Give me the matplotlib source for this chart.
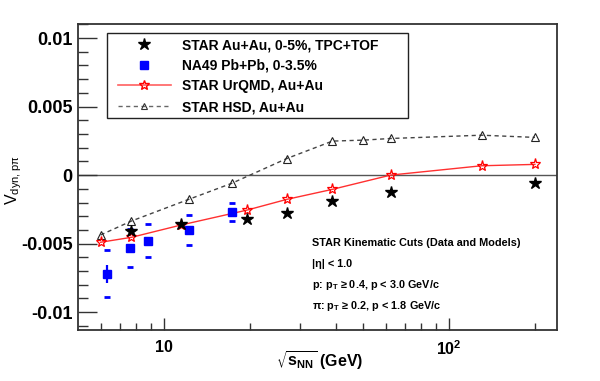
import numpy as np
import matplotlib
matplotlib.use('Agg')
import matplotlib.pyplot as plt
from matplotlib.patches import Rectangle
from matplotlib.ticker import FixedLocator, NullFormatter

plt.rcParams['font.family'] = ['Liberation Sans', 'DejaVu Sans']
plt.rcParams['mathtext.default'] = 'regular'

# STAR Au+Au 0-5% data
star_e = [7.7, 11.5, 19.6, 27, 39, 62.4, 200]
star_v = [-0.0041, -0.0036, -0.0032, -0.0028, -0.0019, -0.00125, -0.0006]
star_err = [0.0001, 0.0001, 0.0001, 0.0001, 0.0002, 0.0002, 0.0001]

# NA49 Pb+Pb 0-3.5%
na49_e = [6.3, 7.6, 8.8, 12.3, 17.3]
na49_v = [-0.0072, -0.0053, -0.0048, -0.0040, -0.0027]
na49_stat = [0.00066, 0.0003, 0.0002, 0.0002, 0.0002]
na49_sys = [0.0017, 0.0014, 0.0012, 0.0011, 0.00067]

# UrQMD
urqmd_e = [6.0, 7.7, 11.5, 19.6, 27, 39, 62.4, 130, 200]
urqmd_v = [-0.0049, -0.00454, -0.00364, -0.00255, -0.00177, -0.00104, 0.0, 0.00068, 0.00078]

# HSD
hsd_e = [6.0, 7.7, 12.3, 17.3, 27, 39, 50, 62.4, 130, 200]
hsd_v = [-0.00437, -0.00335, -0.00175, -0.0006, 0.00121, 0.00248, 0.00255, 0.00267, 0.00291, 0.00275]

fig = plt.figure(figsize=(6.0, 3.81), dpi=100)
ax = fig.add_axes([0.13, 0.1339, 0.7983, 0.8023])

frame_col = '#333333'
ax.axhline(0, color='#555555', lw=1.0, zorder=1)

# HSD
ax.plot(hsd_e, hsd_v, ls=(0, (3, 2.5)), color='#444444', lw=1.0, marker='^', ms=5.5,
        mfc='none', mec='#222222', mew=0.8, zorder=2)
# UrQMD
ax.plot(urqmd_e, urqmd_v, '-', color='#ff3030', lw=1.0, marker='*', ms=8,
        mfc='none', mec='#ff0000', mew=0.9, zorder=3)

# NA49: stat errors and systematic caps
na49_e_a = np.array(na49_e)
na49_v_a = np.array(na49_v)
ax.errorbar(na49_e, na49_v, yerr=na49_stat, fmt='s', color='#0000ff', ms=6,
            elinewidth=1.6, capsize=0, zorder=4)
ax.plot(na49_e_a, na49_v_a + np.array(na49_sys), ls='none', marker='_', ms=4.5,
        mew=2, color='#0000ff', zorder=4)
ax.plot(na49_e_a, na49_v_a - np.array(na49_sys), ls='none', marker='_', ms=4.5,
        mew=2, color='#0000ff', zorder=4)

# STAR data
ax.errorbar(star_e, star_v, yerr=star_err, fmt='*', color='black', ms=9,
            elinewidth=1.2, capsize=0, zorder=5)

ax.set_xscale('log')
ax.set_xlim(5.0, 239)
ax.set_ylim(-0.0113, 0.011)

ax.xaxis.set_major_locator(FixedLocator([10, 100]))
ax.set_xticklabels(['10', '$10^2$'])
ax.xaxis.set_minor_locator(FixedLocator([6, 7, 8, 9, 20, 30, 40, 50, 60, 70, 80, 90, 200]))
ax.xaxis.set_minor_formatter(NullFormatter())

ax.yaxis.set_major_locator(FixedLocator([-0.01, -0.005, 0, 0.005, 0.01]))
ax.set_yticklabels(['-0.01', '-0.005', '0', '0.005', '0.01'])
ax.yaxis.set_minor_locator(FixedLocator([i * 0.001 for i in range(-11, 12) if i % 5 != 0]))

ax.tick_params(axis='both', which='both', direction='in', top=False, right=False,
               color=frame_col, width=1.0)
ax.tick_params(axis='y', which='major', length=14, pad=4, labelsize=13)
ax.tick_params(axis='y', which='minor', length=7)
ax.tick_params(axis='x', which='major', length=9, pad=7, labelsize=11.5)
ax.tick_params(axis='x', which='minor', length=5)
for lab in ax.get_xticklabels() + ax.get_yticklabels():
    lab.set_fontweight('bold')

for sp in ax.spines.values():
    sp.set_color(frame_col)
    sp.set_linewidth(1.3)

ax.set_xlabel(r'$\sqrt{s_{NN}}$ (GeV)', fontsize=11.5, fontweight='bold')
ax.xaxis.set_label_coords(0.505, -0.065)
ax.set_ylabel(r'V$_{dyn,p\pi}$', fontsize=11.5)
ax.yaxis.set_label_coords(-0.112, 0.49)

# legend
fig.patches.append(Rectangle((0.1778, 0.6895), 0.5027, 0.2231, transform=fig.transFigure,
                             fill=False, edgecolor='#222222', lw=1.0))
h1, = ax.plot([], [], ls='none', marker='*', color='black', ms=9)
h2, = ax.plot([], [], ls='none', marker='s', color='#0000ff', ms=6)
h3, = ax.plot([], [], '-', color='#ff6060', lw=1.2, marker='*', ms=7, mfc='none', mec='#ff0000')
h4, = ax.plot([], [], ls=(0, (3, 2.5)), color='#666666', lw=1.0, marker='^', ms=5,
              mfc='none', mec='#333333', mew=0.8)
ax.legend([h1, h2, h3, h4],
          ['STAR Au+Au, 0-5%, TPC+TOF', 'NA49 Pb+Pb, 0-3.5%', 'STAR UrQMD, Au+Au', 'STAR HSD, Au+Au'],
          loc='upper left', bbox_to_anchor=(118 / 600, 1 - 38 / 381), bbox_transform=fig.transFigure,
          frameon=False, borderpad=0, borderaxespad=0, handlelength=3.8, handletextpad=0.8,
          labelspacing=0.48, prop={'weight': 'bold', 'size': 10})

# kinematic cuts text
tx = (312 - 78) / 479
lines = ['STAR Kinematic Cuts (Data and Models)',
         '|\u03b7| < 1.0',
         'p: p$_T$ \u2265 0.4, p < 3.0 GeV/c',
         '\u03c0: p$_T$ \u2265 0.2, p < 1.8 GeV/c']
ys = [243, 264, 285, 306]
for s, yy in zip(lines, ys):
    ax.text(tx, (330 - yy) / 306, s, transform=ax.transAxes, fontsize=7.8, fontweight='bold',
            va='center', ha='left')

fig.savefig('out.png', dpi=100)
